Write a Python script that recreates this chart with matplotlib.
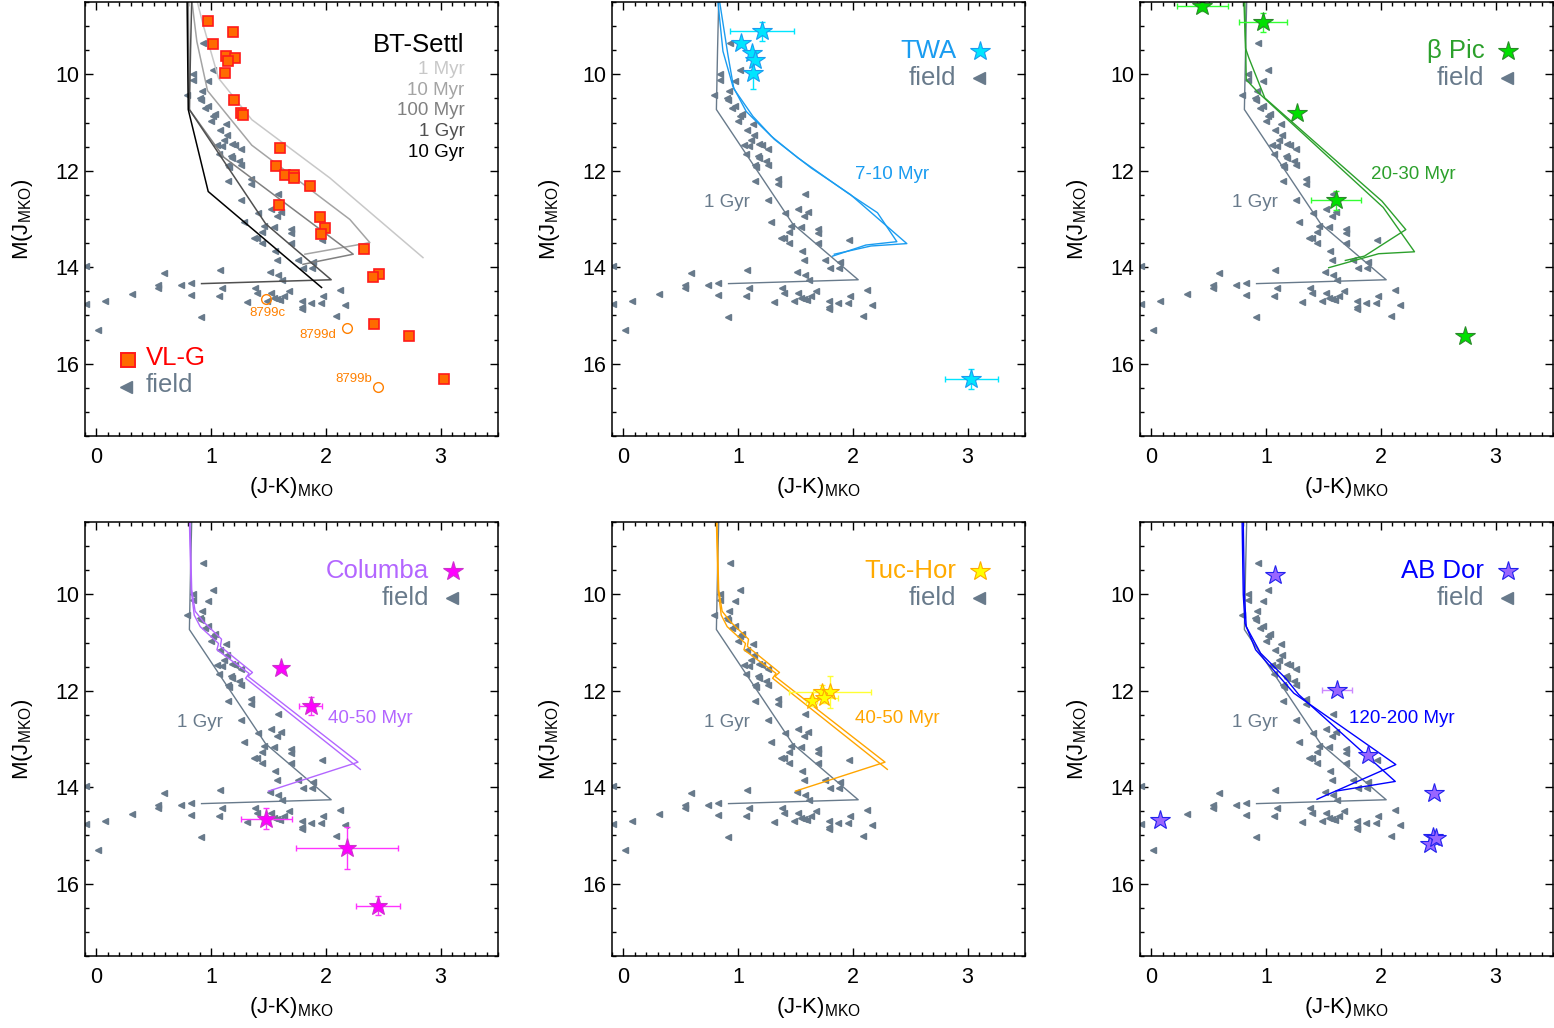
"""Colour-magnitude diagrams of young moving-group members vs. field dwarfs."""

import matplotlib
matplotlib.use("Agg")
import matplotlib.pyplot as plt
from matplotlib.ticker import MultipleLocator

plt.rcParams["font.family"] = ["Liberation Sans", "DejaVu Sans"]
plt.rcParams["mathtext.default"] = "regular"

# ---- field dwarfs (same in every panel) ----
field_jk = [0.925, 1.02, 0.84, 0.84, 0.97, 0.92, 0.79, 0.90, 0.91, 0.97, 0.945, 1.03, 1.02, 1.00,
            1.127, 1.08, 1.136, 1.11, 1.05, 1.098, 1.185, 1.206, 1.264, 1.07, 1.17, 1.243, 1.185,
            1.258, 1.148, 1.157, 1.148, 1.35, 1.345, 1.585, 1.258, 1.525, 1.606, 1.409, 1.571,
            1.287, 1.461, 1.548, 1.699, 1.699, 1.446, 1.374, 1.403, 1.441, 1.699, 1.968, 1.557,
            1.577, 1.757, 1.89, 1.80, 1.875, 1.078, 1.51, 1.585, 1.62, 0.585, 0.533, 0.539, 0.736,
            0.823, 0.823, 1.09, 1.07, 0.31, 0.07, -0.09, 1.383, 1.397, 1.519, 1.548, 1.571, 1.60,
            1.635, 1.678, 1.316, 1.49, 1.794, 1.794, 1.794, 1.872, 1.959, 1.974, 2.127, 2.165,
            2.09, 0.91, 0.012, -0.09]
field_mj = [9.35, 9.90, 9.99, 10.11, 10.14, 10.34, 10.42, 10.50, 10.54, 10.66, 10.70, 10.82, 10.87,
            10.96, 11.03, 11.16, 11.25, 11.37, 11.46, 11.49, 11.44, 11.47, 11.54, 11.65, 11.70,
            11.79, 11.73, 11.88, 11.88, 11.92, 12.21, 12.18, 12.28, 12.49, 12.60, 12.79, 12.86,
            12.87, 12.94, 13.06, 13.14, 13.16, 13.20, 13.30, 13.27, 13.39, 13.39, 13.50, 13.49,
            13.43, 13.66, 13.85, 13.86, 13.90, 14.01, 14.01, 14.06, 14.09, 14.16, 14.27, 14.13,
            14.37, 14.43, 14.37, 14.32, 14.58, 14.43, 14.59, 14.56, 14.71, 14.77, 14.43, 14.54,
            14.54, 14.63, 14.65, 14.68, 14.59, 14.50, 14.72, 14.71, 14.71, 14.82, 14.87, 14.75,
            14.75, 14.59, 14.48, 14.79, 15.01, 15.04, 15.30, 13.98]

# ---- BT-Settl isochrones ----
iso_1myr_jk = [0.878, 0.933, 1.064, 1.354, 2.035, 2.846]
iso_1myr_mj = [8.49, 9.0, 10.08, 10.94, 12.15, 13.80]
iso_10myr_jk = [0.832, 0.875, 0.968, 1.354, 2.209, 2.383, 1.817]
iso_10myr_mj = [8.49, 9.32, 10.34, 11.47, 13.01, 13.49, 13.73]
iso_100myr_jk = [0.80, 0.81, 1.11, 2.238, 1.80]
iso_100myr_mj = [8.49, 10.73, 11.72, 13.73, 13.94]
iso_1gyr_jk = [0.83, 0.82, 0.81, 1.475, 2.046, 0.916]
iso_1gyr_mj = [8.49, 9.5, 10.73, 13.10, 14.26, 14.34]
iso_10gyr_jk = [0.79, 0.80, 0.974, 1.962]
iso_10gyr_mj = [8.49, 10.73, 12.43, 14.42]

# group isochrones (two ages bracketing each group)
twa_iso_a_jk = [0.823, 0.867, 0.954, 1.07, 1.142, 1.287, 1.519, 1.954, 2.214, 2.383, 2.113, 1.823]
twa_iso_a_mj = [8.49, 9.52, 10.25, 10.77, 10.94, 11.28, 11.73, 12.46, 12.87, 13.47, 13.54, 13.77]
twa_iso_b_jk = [0.838, 0.91, 0.962, 1.128, 1.316, 1.635, 1.977, 2.47, 2.157, 1.838]
twa_iso_b_mj = [8.49, 9.59, 10.30, 10.87, 11.35, 11.94, 12.49, 13.51, 13.56, 13.73]

bpic_iso_a_jk = [0.806, 0.82, 0.849, 0.988, 2.009, 2.217, 1.856, 1.69]
bpic_iso_a_mj = [8.49, 9.46, 9.66, 10.49, 12.63, 13.22, 13.77, 13.86]
bpic_iso_b_jk = [0.814, 0.826, 0.936, 2.02, 2.293, 1.98, 1.545]
bpic_iso_b_mj = [8.49, 10.11, 10.39, 12.76, 13.68, 13.72, 14.01]

iso4050_a_jk = [0.815, 0.83, 0.86, 0.933, 1.09, 1.08, 1.36, 1.32, 2.28, 1.50]
iso4050_a_mj = [8.49, 9.9, 10.35, 10.57, 10.93, 11.08, 11.62, 11.70, 13.48, 14.08]
iso4050_b_jk = [0.81, 0.825, 0.852, 0.904, 1.064, 1.05, 1.33, 1.30, 2.30]
iso4050_b_mj = [8.49, 9.9, 10.43, 10.67, 11.02, 11.15, 11.64, 11.74, 13.63]

abdor_iso_a_jk = [0.79, 0.80, 0.815, 0.908, 1.241, 2.13, 1.443]
abdor_iso_a_mj = [8.49, 10.0, 10.60, 11.15, 12.05, 13.53, 14.25]
abdor_iso_b_jk = [0.80, 0.81, 0.826, 0.951, 1.169, 1.284, 2.125, 1.61]
abdor_iso_b_mj = [8.49, 10.0, 10.67, 11.22, 11.74, 12.08, 13.88, 14.08]

# ---- VL-G objects ----
vlg_jk = [0.968, 1.194, 1.02, 1.125, 1.206, 1.148, 1.116, 1.197, 1.264, 1.275, 1.603, 1.568,
          1.643, 1.719, 1.725, 1.864, 1.594, 1.951, 1.988, 1.957, 2.33, 2.461, 2.414, 2.42,
          2.728, 3.026]
vlg_mj = [8.90, 9.12, 9.37, 9.61, 9.66, 9.73, 9.98, 10.53, 10.81, 10.85, 11.52, 11.90, 12.09,
          12.08, 12.14, 12.32, 12.71, 12.96, 13.19, 13.32, 13.63, 14.14, 14.21, 15.17, 15.42,
          16.32]
hr8799_names = ["8799c", "8799d", "8799b"]
hr8799_jk = [1.481, 2.183, 2.455]
hr8799_mj = [14.66, 15.27, 16.49]

# ---- moving-group members ----
twa_jk = [1.206, 1.026, 1.119, 1.148, 1.128, 3.032]
twa_mj = [9.11, 9.35, 9.56, 9.70, 9.97, 16.32]
twa_xerr = [0.28, 0.0, 0.0, 0.0, 0.0, 0.23]
twa_yerr = [0.2, 0.0, 0.0, 0.0, 0.33, 0.2]

bpic_jk = [0.443, 0.971, 1.27, 1.609, 2.733]
bpic_mj = [8.59, 8.92, 10.81, 12.61, 15.42]
bpic_xerr = [0.22, 0.21, 0.0, 0.22, 0.0]
bpic_yerr = [0.1, 0.2, 0.0, 0.2, 0.0]

col_jk = [1.606, 1.867, 1.481, 2.183, 2.455]
col_mj = [11.52, 12.31, 14.65, 15.26, 16.46]
col_xerr = [0.03, 0.1, 0.225, 0.445, 0.19]
col_yerr = [0.05, 0.19, 0.22, 0.43, 0.2]

tuc_jk = [1.64, 1.73, 1.80, 1.75]
tuc_mj = [12.22, 12.02, 12.03, 12.16]
tuc_xerr = [0.05, 0.08, 0.36, 0.12]
tuc_yerr = [0.1, 0.15, 0.33, 0.1]

abdor_jk = [1.081, 1.617, 1.887, 0.072, 2.464, 2.45, 2.43, 2.48]
abdor_mj = [9.59, 11.99, 13.34, 14.69, 14.12, 15.04, 15.18, 15.06]
abdor_xerr = [0.0, 0.13, 0.0, 0.03, 0.0, 0.0, 0.0, 0.0]
abdor_yerr = [0.0, 0.06, 0.0, 0.0, 0.0, 0.0, 0.0, 0.0]

FIELD_C = "#687a8b"
FIG_W, FIG_H = 1554, 1028


def style_axes(ax):
    ax.set_xlim(-0.1, 3.5)
    ax.set_ylim(17.5, 8.5)
    ax.xaxis.set_major_locator(MultipleLocator(1))
    ax.xaxis.set_minor_locator(MultipleLocator(0.1))
    ax.yaxis.set_major_locator(MultipleLocator(2))
    ax.yaxis.set_minor_locator(MultipleLocator(0.5))
    ax.tick_params(which="both", direction="in", top=True, right=True, width=1.0)
    ax.tick_params(which="major", length=6, labelsize=15.5)
    ax.tick_params(which="minor", length=3)
    ax.tick_params(axis="x", pad=8)
    ax.tick_params(axis="y", pad=4)
    for sp in ax.spines.values():
        sp.set_linewidth(1.1)
    ax.set_xlabel("(J-K)$_{MKO}$", fontsize=16)
    ax.set_ylabel("M(J$_{MKO}$)", fontsize=16)
    ax.xaxis.set_label_coords(0.5, -0.09)
    ax.yaxis.set_label_coords(-0.12, 0.5)


def draw_field(ax):
    ax.plot(field_jk, field_mj, ls="none", marker="<", ms=3.8, color=FIELD_C, mec=FIELD_C)


def group_panel(ax, name, text_c, line_c, star_fc, star_ec, err_c, ms,
                jk, mj, xerr, yerr, iso_a, iso_b, age, age_xy):
    draw_field(ax)
    ax.plot(iso_1gyr_jk, iso_1gyr_mj, color=FIELD_C, lw=1.0)
    ax.text(0.9, 12.66, "1 Gyr", color=FIELD_C, fontsize=13.5, ha="center", va="center")
    ax.plot(iso_a[0], iso_a[1], color=line_c, lw=1.0)
    ax.plot(iso_b[0], iso_b[1], color=line_c, lw=1.0)
    ax.text(age_xy[0], age_xy[1], age, color=line_c, fontsize=13.5, ha="center", va="center")
    ax.errorbar(jk, mj, xerr=xerr, yerr=yerr, fmt="none", ecolor=err_c, elinewidth=1.0,
                capsize=2.5, capthick=1.0)
    ax.plot(jk, mj, ls="none", marker="*", ms=ms, mfc=star_fc, mec=star_ec, mew=0.8)
    # legend
    ax.text(2.90, 9.51, name, color=text_c, fontsize=18.5, ha="right", va="center")
    ax.plot([3.11], [9.51], marker="*", ms=15, mfc=star_fc, mec=star_ec, mew=0.8, clip_on=False)
    ax.text(2.90, 10.07, "field", color=FIELD_C, fontsize=18.5, ha="right", va="center")
    ax.plot([3.10], [10.08], marker="<", ms=9, color=FIELD_C)


def main():
    fig = plt.figure(figsize=(FIG_W / 100, FIG_H / 100), dpi=100)
    lefts = [85, 612, 1140]
    tops = [2, 522]
    axes = []
    for top in tops:
        for left in lefts:
            rect = [left / FIG_W, 1 - (top + 434) / FIG_H, 413 / FIG_W, 434 / FIG_H]
            ax = fig.add_axes(rect)
            style_axes(ax)
            axes.append(ax)

    # panel 1: BT-Settl + VL-G
    ax = axes[0]
    draw_field(ax)
    bt = [(iso_1myr_jk, iso_1myr_mj, "#c8c8c8", "1 Myr"),
          (iso_10myr_jk, iso_10myr_mj, "#a4a4a4", "10 Myr"),
          (iso_100myr_jk, iso_100myr_mj, "#808080", "100 Myr"),
          (iso_1gyr_jk, iso_1gyr_mj, "#505050", "1 Gyr"),
          (iso_10gyr_jk, iso_10gyr_mj, "#000000", "10 Gyr")]
    ax.text(3.21, 9.39, "BT-Settl", fontsize=18.5, ha="right", va="center")
    for i, (xj, ym, c, lab) in enumerate(bt):
        ax.plot(xj, ym, color=c, lw=1.1)
        ax.text(3.21, 9.90 + 0.428 * i, lab, color=c, fontsize=13.5, ha="right", va="center")
    ax.plot(vlg_jk, vlg_mj, ls="none", marker="s", ms=7.5, mfc="#ff6a00", mec="#ff1a1a", mew=1.2)
    ax.plot(hr8799_jk, hr8799_mj, ls="none", marker="o", ms=7, mfc="none", mec="#ff8000", mew=1.0)
    ax.text(hr8799_jk[0] + 0.01, hr8799_mj[0] + 0.28, hr8799_names[0], color="#ff8000",
            fontsize=9.5, ha="center", va="center")
    ax.text(hr8799_jk[1] - 0.09, hr8799_mj[1] + 0.13, hr8799_names[1], color="#ff8000",
            fontsize=9.5, ha="right", va="center")
    ax.text(hr8799_jk[2] - 0.05, hr8799_mj[2] - 0.17, hr8799_names[2], color="#ff8000",
            fontsize=9.5, ha="right", va="center")
    ax.plot([0.272], [15.92], marker="s", ms=10, mfc="#ff6a00", mec="#ff1a1a", mew=1.4)
    ax.text(0.43, 15.88, "VL-G", color="#ff0000", fontsize=18.5, ha="left", va="center")
    ax.plot([0.258], [16.49], marker="<", ms=9, color=FIELD_C)
    ax.text(0.43, 16.45, "field", color=FIELD_C, fontsize=18.5, ha="left", va="center")

    group_panel(axes[1], "TWA", "#1a9cf0", "#1a9cf0", "#00e5ff", "#1a9cf0", "#00e5ff", 15,
                twa_jk, twa_mj, twa_xerr, twa_yerr,
                (twa_iso_a_jk, twa_iso_a_mj), (twa_iso_b_jk, twa_iso_b_mj),
                "7-10 Myr", (2.345, 12.08))
    group_panel(axes[2], "\u03b2 Pic", "#2ca02c", "#2ca02c", "#00e000", "#2a8a2a", "#33ff33", 15,
                bpic_jk, bpic_mj, bpic_xerr, bpic_yerr,
                (bpic_iso_a_jk, bpic_iso_a_mj), (bpic_iso_b_jk, bpic_iso_b_mj),
                "20-30 Myr", (2.284, 12.07))
    group_panel(axes[3], "Columba", "#b366ff", "#b366ff", "#ff00ff", "#cc33cc", "#ff33ff", 14,
                col_jk, col_mj, col_xerr, col_yerr,
                (iso4050_a_jk, iso4050_a_mj), (iso4050_b_jk, iso4050_b_mj),
                "40-50 Myr", (2.383, 12.58))
    group_panel(axes[4], "Tuc-Hor", "#ffaa00", "#ffa500", "#ffff00", "#ffaa00", "#ffff33", 13,
                tuc_jk, tuc_mj, tuc_xerr, tuc_yerr,
                (iso4050_a_jk, iso4050_a_mj), (iso4050_b_jk, iso4050_b_mj),
                "40-50 Myr", (2.39, 12.58))
    group_panel(axes[5], "AB Dor", "#0000ff", "#0000ff", "#9966ff", "#2222ee", "#cc88ff", 15,
                abdor_jk, abdor_mj, abdor_xerr, abdor_yerr,
                (abdor_iso_a_jk, abdor_iso_a_mj), (abdor_iso_b_jk, abdor_iso_b_mj),
                "120-200 Myr", (2.186, 12.58))

    fig.savefig("out.png", dpi=100)


if __name__ == "__main__":
    main()
